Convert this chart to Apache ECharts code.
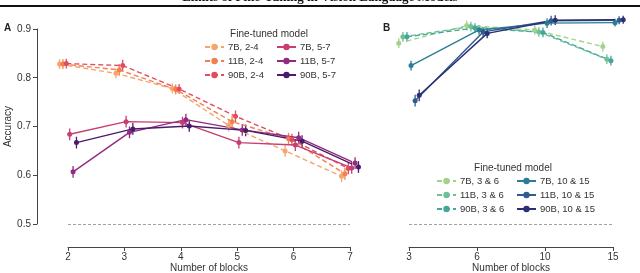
<!DOCTYPE html>
<html><head><meta charset="utf-8">
<script src="https://cdn.jsdelivr.net/npm/echarts@6/dist/echarts.min.js"></script>
<style>html,body{margin:0;padding:0;background:#fff}#c{width:640px;height:273px}</style>
</head><body><div id="c"></div>
<script>
// ---- data ----
const blocksA = [2, 3, 4, 5, 6, 7];
const blocksB = ['3', '6', '10', '15'];
const yTicks = [0.5, 0.6, 0.7, 0.8, 0.9];
const namesA = ['7B, 2-4', '11B, 2-4', '90B, 2-4', '7B, 5-7', '11B, 5-7', '90B, 5-7'];
const namesB = ['7B, 3 & 6', '11B, 3 & 6', '90B, 3 & 6', '7B, 10 & 15', '11B, 10 & 15', '90B, 10 & 15'];

const accA_7B_24  = [0.828, 0.809, 0.778, 0.702, 0.650, 0.598];
const accA_11B_24 = [0.828, 0.816, 0.776, 0.710, 0.675, 0.603];
const accA_90B_24 = [0.829, 0.825, 0.777, 0.721, 0.673, 0.614];
const accA_7B_57  = [0.684, 0.710, 0.708, 0.667, 0.662, 0.615];
const accA_11B_57 = [0.607, 0.688, 0.714, 0.693, 0.677, 0.625];
const accA_90B_57 = [0.667, 0.695, 0.701, 0.692, 0.670, 0.617];

const accB_7B_36    = [0.871, 0.907, 0.898, 0.864];
const accB_11B_36   = [0.884, 0.905, 0.894, 0.838];
const accB_90B_36   = [0.884, 0.902, 0.893, 0.835];
const accB_7B_1015  = [0.825, 0.898, 0.912, 0.913];
const accB_11B_1015 = [0.753, 0.894, 0.917, 0.918];
const accB_90B_1015 = [0.764, 0.891, 0.918, 0.919];

const errA = [
  [0.010, 0.010, 0.010, 0.012, 0.012, 0.012],
  [0.010, 0.012, 0.010, 0.012, 0.012, 0.012],
  [0.010, 0.012, 0.010, 0.012, 0.012, 0.012],
  [0.012, 0.012, 0.012, 0.012, 0.012, 0.012],
  [0.012, 0.012, 0.012, 0.012, 0.012, 0.012],
  [0.012, 0.012, 0.012, 0.012, 0.012, 0.012]
];
const errB = [
  [0.010, 0.010, 0.010, 0.010],
  [0.010, 0.010, 0.010, 0.010],
  [0.010, 0.010, 0.010, 0.010],
  [0.010, 0.010, 0.010, 0.008],
  [0.012, 0.010, 0.010, 0.008],
  [0.012, 0.010, 0.010, 0.008]
];

const seriesA = [accA_7B_24, accA_11B_24, accA_90B_24, accA_7B_57, accA_11B_57, accA_90B_57];
const seriesB = [accB_7B_36, accB_11B_36, accB_90B_36, accB_7B_1015, accB_11B_1015, accB_90B_1015];

// ---- style ----
const colorsA = ['#f6a56c', '#f2804f', '#e14d5e', '#c63e74', '#922b80', '#4a1a6d'];
const colorsB = ['#a4d28c', '#6fbf97', '#45a69a', '#2a7e93', '#2e5c8e', '#2b2f74'];
const dodge = [-0.15, -0.09, -0.03, 0.03, 0.09, 0.15];
const FONT = 'Liberation Sans, Arial, sans-serif';
const AX = '#444';

const chart = echarts.init(document.getElementById('c'), null, {renderer: 'canvas'});

function errSeries(xi, color, pts) {
  return {
    type: 'custom', xAxisIndex: xi, yAxisIndex: xi, clip: false, z: 3,
    silent: true,
    data: pts,
    encode: {x: 0, y: [1, 2]},
    renderItem: function (params, api) {
      const p1 = api.coord([api.value(0), api.value(1)]);
      const p2 = api.coord([api.value(0), api.value(2)]);
      return {type: 'line', shape: {x1: p1[0], y1: p1[1], x2: p2[0], y2: p2[1]},
        style: {stroke: color, lineWidth: 1.3}};
    }
  };
}

const series = [];
seriesA.forEach((vals, k) => {
  series.push({
    name: namesA[k], type: 'line', xAxisIndex: 0, yAxisIndex: 0, clip: false, z: 4,
    data: blocksA.map((b, i) => [b + dodge[k], vals[i]]),
    symbol: 'circle', symbolSize: 5, showSymbol: true,
    itemStyle: {color: colorsA[k]},
    lineStyle: {width: 1.4, color: colorsA[k], type: k < 3 ? [5, 3] : 'solid'},
    emphasis: {disabled: true}, animation: false
  });
  series.push(errSeries(0, colorsA[k], blocksA.map((b, i) => [b + dodge[k], vals[i] - errA[k][i], vals[i] + errA[k][i]])));
});
seriesB.forEach((vals, k) => {
  series.push({
    name: namesB[k], type: 'line', xAxisIndex: 1, yAxisIndex: 1, clip: false, z: 4,
    data: blocksB.map((b, i) => [i + dodge[k], vals[i]]),
    symbol: 'circle', symbolSize: 5, showSymbol: true,
    itemStyle: {color: colorsB[k]},
    lineStyle: {width: 1.4, color: colorsB[k], type: k < 3 ? [5, 3] : 'solid'},
    emphasis: {disabled: true}, animation: false
  });
  series.push(errSeries(1, colorsB[k], blocksB.map((b, i) => [i + dodge[k], vals[i] - errB[k][i], vals[i] + errB[k][i]])));
});
// reference lines at chance level
series.push({type: 'line', xAxisIndex: 0, yAxisIndex: 0, data: [], silent: true,
  markLine: {symbol: 'none', silent: true, label: {show: false}, animation: false,
    lineStyle: {color: '#888', type: [3, 2], width: 0.8}, data: [{yAxis: 0.5}]}});
series.push({type: 'line', xAxisIndex: 1, yAxisIndex: 1, data: [], silent: true,
  markLine: {symbol: 'none', silent: true, label: {show: false}, animation: false,
    lineStyle: {color: '#888', type: [3, 2], width: 0.8}, data: [{yAxis: 0.5}]}});

const axisCommon = {
  axisLine: {show: true, lineStyle: {color: AX, width: 1}},
  axisTick: {show: true, length: 4, lineStyle: {color: AX, width: 1}},
  axisLabel: {color: '#333', fontSize: 10, fontFamily: FONT},
  splitLine: {show: false}
};
const nameStyle = {fontSize: 10, color: '#333', fontFamily: FONT};

function legend(names, left, top) {
  return {
    data: names, left: left, top: top, orient: 'vertical', padding: 0,
    itemWidth: 19, itemHeight: 8, itemGap: 4, itemSymbolKeepAspect: true,
    selectedMode: false,
    textStyle: {fontSize: 9.5, color: '#333', fontFamily: FONT, padding: [0, 0, 0, -1]}
  };
}

chart.setOption({
  animation: false,
  backgroundColor: '#fff',
  textStyle: {fontFamily: FONT},
  grid: [
    {left: 68, right: 290, top: 29, bottom: 49, outerBoundsMode: 'none', containLabel: false},
    {left: 409, right: 27, top: 29, bottom: 49, outerBoundsMode: 'none', containLabel: false}
  ],
  xAxis: [
    Object.assign({}, axisCommon, {gridIndex: 0, type: 'value', min: 2, max: 7, interval: 1, offset: 23,
      name: 'Number of blocks', nameLocation: 'middle', nameGap: 16, nameMoveOverlap: false, nameTextStyle: nameStyle,
      axisLabel: Object.assign({}, axisCommon.axisLabel, {margin: 5, formatter: v => String(blocksA[blocksA.indexOf(v)])})}),
    Object.assign({}, axisCommon, {gridIndex: 1, type: 'value', min: 0, max: 3, interval: 1, offset: 23,
      name: 'Number of blocks', nameLocation: 'middle', nameGap: 16, nameMoveOverlap: false, nameTextStyle: nameStyle,
      axisLabel: Object.assign({}, axisCommon.axisLabel, {margin: 5, formatter: v => blocksB[v]})})
  ],
  yAxis: [
    Object.assign({}, axisCommon, {gridIndex: 0, type: 'value', min: yTicks[0], max: yTicks[yTicks.length - 1], interval: 0.1,
      offset: 31, name: 'Accuracy', nameLocation: 'middle', nameGap: 24, nameMoveOverlap: false, nameRotate: 90, nameTextStyle: nameStyle,
      axisLabel: Object.assign({}, axisCommon.axisLabel, {margin: 6, formatter: v => v.toFixed(1)})}),
    {gridIndex: 1, type: 'value', min: yTicks[0], max: yTicks[yTicks.length - 1], interval: 0.1, show: false,
      splitLine: {show: false}}
  ],
  legend: [
    legend(namesA.slice(0, 3), 204, 42),
    legend(namesA.slice(3), 276, 42),
    legend(namesB.slice(0, 3), 436, 176),
    legend(namesB.slice(3), 516, 176)
  ],
  graphic: [
    {type: 'text', x: 320, y: 4.5, style: {text: 'Limits of Fine-Tuning in Vision Language Models',
      font: 'bold 13px "Liberation Serif", serif', fill: '#111', align: 'center', verticalAlign: 'bottom'}},
    {type: 'rect', x: 0, y: 5, shape: {x: 0, y: 0, width: 640, height: 2}, style: {fill: '#111'}},
    {type: 'text', x: 4, y: 28, style: {text: 'A', font: 'bold 10px "Liberation Sans", Arial', fill: '#222', verticalAlign: 'middle'}},
    {type: 'text', x: 383, y: 28, style: {text: 'B', font: 'bold 10px "Liberation Sans", Arial', fill: '#222', verticalAlign: 'middle'}},
    {type: 'text', x: 269, y: 34, style: {text: 'Fine-tuned model', font: '10px "Liberation Sans", Arial', fill: '#333', align: 'center', verticalAlign: 'middle'}},
    {type: 'text', x: 513, y: 168, style: {text: 'Fine-tuned model', font: '10px "Liberation Sans", Arial', fill: '#333', align: 'center', verticalAlign: 'middle'}}
  ],
  series: series
});
</script>
</body></html>
